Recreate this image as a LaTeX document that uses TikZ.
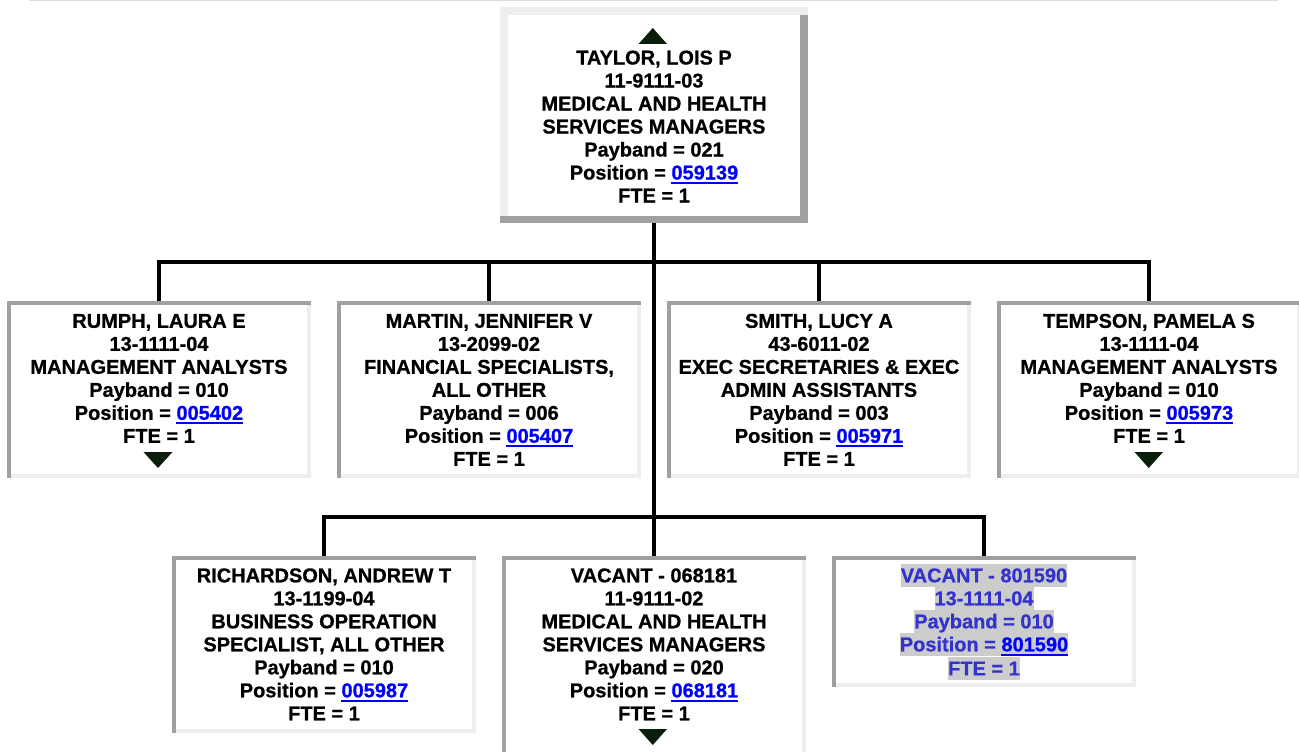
\documentclass[tikz,border=0pt]{standalone}
\usepackage{fontspec}
\setmainfont[BoldFeatures={FakeBold=0.8}]{Liberation Sans}
\usetikzlibrary{calc}
\definecolor{bdark}{HTML}{A0A0A0}
\definecolor{blight}{HTML}{EEEEEE}
\definecolor{linkblue}{HTML}{0000FF}
\definecolor{vacblue}{HTML}{3333CC}
\definecolor{hlgray}{HTML}{CCCCCC}
\definecolor{tricol}{HTML}{0A1F0A}
\definecolor{topline}{HTML}{DDDDDD}
\newcommand\poslnk[1]{{\color{linkblue}\setbox0=\hbox{#1}\rlap{\rule[-4.5pt]{\wd0}{2pt}}\box0}}
\newcommand\hlline[1]{{\setlength{\fboxsep}{0pt}\colorbox{hlgray}{\rule[-4.4pt]{0pt}{23pt}#1}}}
\tikzset{
  inset/.style={minimum width=304pt, minimum height=#1, inner sep=0pt, outer sep=0pt, anchor=north,
    path picture={
      \fill[bdark] (path picture bounding box.north west) rectangle ([yshift=-4pt]path picture bounding box.north east);
      \fill[bdark] (path picture bounding box.north west) rectangle ([xshift=4pt]path picture bounding box.south west);
      \fill[blight] ([xshift=4pt]path picture bounding box.south west) rectangle ([yshift=4pt]path picture bounding box.south east);
      \fill[blight] ([xshift=-4pt,yshift=-4pt]path picture bounding box.north east) rectangle (path picture bounding box.south east);
    }},
  outset/.style={minimum width=308pt, minimum height=216pt, inner sep=0pt, outer sep=0pt, anchor=north,
    path picture={
      \fill[blight] (path picture bounding box.north west) rectangle ([yshift=-8pt]path picture bounding box.north east);
      \fill[blight] (path picture bounding box.north west) rectangle ([xshift=8pt,yshift=7pt]path picture bounding box.south west);
      \fill[bdark] ([yshift=7pt]path picture bounding box.south west) rectangle (path picture bounding box.south east);
      \fill[bdark] ([xshift=-8pt,yshift=-8pt]path picture bounding box.north east) rectangle (path picture bounding box.south east);
    }},
  txt/.style={font=\fontsize{20}{23}\selectfont\bfseries, align=center, anchor=north, inner sep=0pt, outer sep=0pt},
  conn/.style={draw=black, line width=4pt, line join=miter},
  tri/.style={fill=tricol},
}
\begin{document}
\begin{tikzpicture}[x=1pt, y=-1pt]
\path[use as bounding box] (0,0) rectangle (1299,752);
\clip (0,0) rectangle (1299,752);
\fill[topline] (29,0) rectangle (1278,1.3);

% boxes
\node[outset] (top) at (654,7) {};
\node[inset=177pt] (b1) at (159,301) {};
\node[inset=177pt] (b2) at (489,301) {};
\node[inset=177pt] (b3) at (819,301) {};
\node[inset=177pt] (b4) at (1149,301) {};
\node[inset=177pt] (b5) at (324,556) {};
\node[inset=206pt] (b6) at (654,556) {};
\node[inset=131pt] (b7) at (984,556) {};

% connectors
\coordinate (bus1) at (654,262);
\coordinate (bus2) at (654,517);
\draw[conn] (top.south) -- (bus2);
\draw[conn] (b1.north) |- (bus1) -| (b4.north);
\draw[conn] (b2.north) -- (b2.north |- bus1);
\draw[conn] (b3.north) -- (b3.north |- bus1);
\draw[conn] (b5.north) |- (bus2) -| (b7.north);
\draw[conn] (bus2) -- (b6.north);

% texts
\node[txt] (t0) at (654,48.4) {\strut TAYLOR, LOIS P\\11-9111-03\\MEDICAL AND HEALTH\\SERVICES MANAGERS\\Payband = 021\\Position = \poslnk{059139}\\FTE = 1};
\node[txt] (t1) at (159,311.7) {\strut RUMPH, LAURA E\\13-1111-04\\MANAGEMENT ANALYSTS\\Payband = 010\\Position = \poslnk{005402}\\FTE = 1};
\node[txt] (t2) at (489,311.7) {\strut MARTIN, JENNIFER V\\13-2099-02\\FINANCIAL SPECIALISTS,\\ALL OTHER\\Payband = 006\\Position = \poslnk{005407}\\FTE = 1};
\node[txt] (t3) at (819,311.7) {\strut SMITH, LUCY A\\43-6011-02\\EXEC SECRETARIES \& EXEC\\ADMIN ASSISTANTS\\Payband = 003\\Position = \poslnk{005971}\\FTE = 1};
\node[txt] (t4) at (1149,311.7) {\strut TEMPSON, PAMELA S\\13-1111-04\\MANAGEMENT ANALYSTS\\Payband = 010\\Position = \poslnk{005973}\\FTE = 1};
\node[txt] (t5) at (324,566.2) {\strut RICHARDSON, ANDREW T\\13-1199-04\\BUSINESS OPERATION\\SPECIALIST, ALL OTHER\\Payband = 010\\Position = \poslnk{005987}\\FTE = 1};
\node[txt] (t6) at (654,566.2) {\strut VACANT - 068181\\11-9111-02\\MEDICAL AND HEALTH\\SERVICES MANAGERS\\Payband = 020\\Position = \poslnk{068181}\\FTE = 1};
\node[txt, text=vacblue] (t7) at (984,563.7) {\hlline{VACANT - 801590}\\\hlline{13-1111-04}\\\hlline{Payband = 010}\\\hlline{Position = \poslnk{801590}}\\\hlline{FTE = 1}};

% expand/collapse triangles
\fill[tri] (638.5,44) -- (667,44) -- (652.8,28) -- cycle;
\fill[tri] (143.5,452) -- (172.5,452) -- (158,468) -- cycle;
\fill[tri] (1134.5,452) -- (1163,452) -- (1148.7,468) -- cycle;
\fill[tri] (638.5,729) -- (667,729) -- (652.8,745) -- cycle;
\end{tikzpicture}
\end{document}
